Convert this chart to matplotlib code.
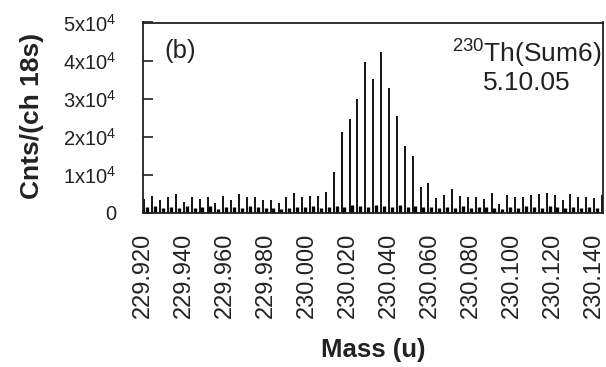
import numpy as np
import matplotlib
matplotlib.use("Agg")
import matplotlib.pyplot as plt

plt.rcParams['font.family'] = ['Liberation Sans', 'DejaVu Sans']
plt.rcParams['mathtext.fontset'] = 'custom'
plt.rcParams['mathtext.rm'] = 'Liberation Sans'
plt.rcParams['mathtext.it'] = 'Liberation Sans:italic'
plt.rcParams['mathtext.bf'] = 'Liberation Sans:bold'
plt.rcParams['mathtext.default'] = 'regular'

# channel layout (mass units)
mass_start = 229.9207
mass_step = 0.00385

# summed counts per channel (thin sticks)
counts = [3600, 4500, 3400, 4200, 5100, 2900, 4200, 3700, 4200, 2700,
          4400, 3400, 4900, 4200, 4200, 3400, 3400, 2500, 4200, 5300,
          4200, 4500, 4500, 5600, 10800, 21300, 24600, 29900, 39700, 35300,
          42200, 32700, 25500, 17700, 15000, 6900, 8000, 3900, 4700, 6300,
          4500, 4300, 4300, 3700, 5300, 2300, 4700, 4300, 4300, 4700,
          5100, 5300, 4700, 3400, 5100, 4300, 4300, 3900, 4700]

# background counts per channel (short heavy bars)
background = [1500, 1800, 1200, 1700, 1400, 1900, 1300, 1600, 1800, 1100,
              1700, 1500, 1300, 1900, 1600, 1200, 1400, 1000, 1300, 1700,
              1500, 1800, 1400, 1600, 1900, 1700, 2000, 1800, 1600, 2100,
              1900, 1700, 2000, 1600, 1800, 1500, 1700, 1300, 1600, 1200,
              1800, 1400, 1500, 1700, 1300, 1100, 1600, 1400, 1800, 1500,
              1300, 1900, 1500, 1200, 1700, 1400, 1600, 1300, 1500]

xtick_values = [229.920, 229.940, 229.960, 229.980, 230.000, 230.020,
                230.040, 230.060, 230.080, 230.100, 230.120, 230.140]
ytick_values = [0, 10000, 20000, 30000, 40000, 50000]
ytick_labels = ['0', '1x10$^4$', '2x10$^4$', '3x10$^4$', '4x10$^4$', '5x10$^4$']

mass = mass_start + mass_step * np.arange(len(counts))

fig = plt.figure(figsize=(6.06, 3.67), dpi=100)
ax = fig.add_axes([143 / 606, 1 - 213 / 367, 460 / 606, 190.5 / 367])

ax.vlines(mass + 0.35 * mass_step, 0, background, color='black', linewidth=2.4)
ax.vlines(mass, 0, counts, color='#111111', linewidth=1.4)

ax.set_xlim(229.920, 230.1445)
ax.set_ylim(0, 50000)

ax.set_xticks(xtick_values)
ax.set_xticklabels([f'{v:.3f}' for v in xtick_values], rotation=90)
ax.set_yticks(ytick_values)
ax.set_yticklabels(ytick_labels)
ax.tick_params(axis='y', direction='in', length=7, width=1.2, pad=19,
               labelsize=14.5, colors='#222222')
ax.tick_params(axis='x', length=0, pad=14, labelsize=17, colors='#222222')
for sp in ax.spines.values():
    sp.set_linewidth(1.3)
    sp.set_color('#222222')

ax.text(0.08, 0.85, '(b)', transform=ax.transAxes, fontsize=18.5,
        ha='center', va='center', color='#222222')
fig.text(527 / 606, 1 - 54 / 367, '$^{230}$Th(Sum6)',
         fontsize=19, ha='center', va='center', color='#222222')
fig.text(527 / 606, 1 - 82.5 / 367, '5.10.05',
         fontsize=19, ha='center', va='center', color='#222222')

fig.text(32 / 606, 1 - 116 / 367, 'Cnts/(ch 18s)', rotation=90,
         ha='center', va='center', fontsize=19, fontweight='bold',
         color='#222222')
fig.text(373 / 606, 1 - 350 / 367, 'Mass (u)', ha='center', va='center',
         fontsize=18.5, fontweight='bold', color='#222222')

fig.savefig('out.png', dpi=100)
